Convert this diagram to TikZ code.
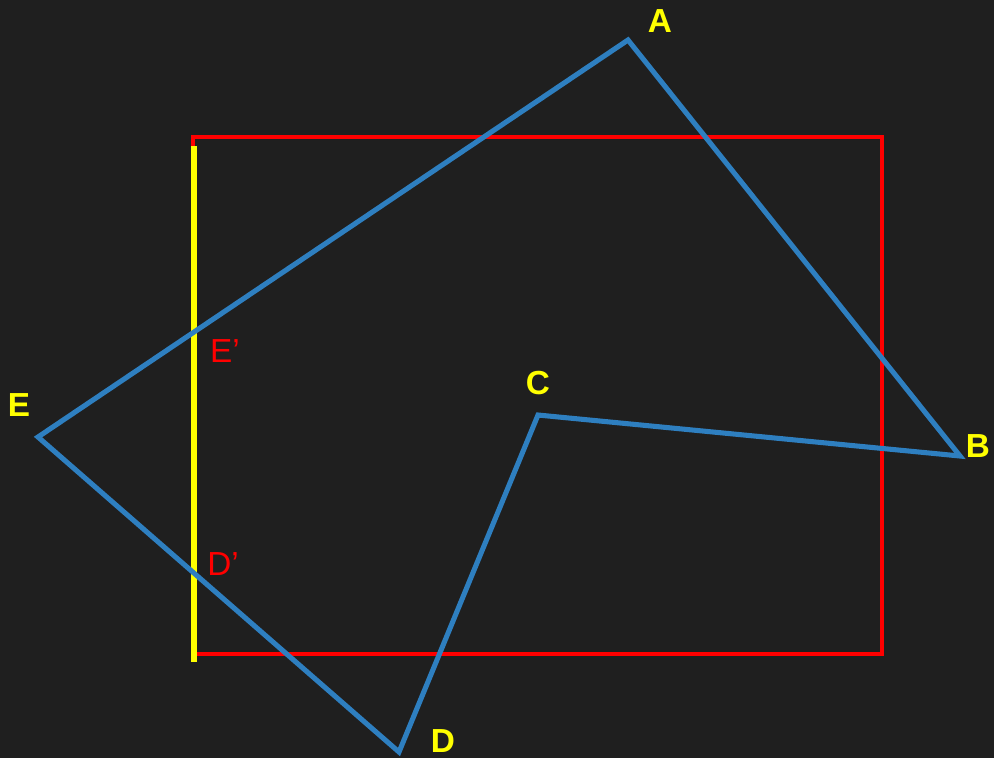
\documentclass[tikz,border=0pt]{standalone}
\usepackage{fontspec}
\setmainfont{Liberation Sans}
\definecolor{bg}{HTML}{1F1F1F}
\definecolor{polyblue}{HTML}{2E7FC0}
\definecolor{clipred}{HTML}{FF0000}
\definecolor{vyellow}{HTML}{FFFF00}
\tikzset{
  vlabel/.style={text=vyellow, font=\bfseries\fontsize{25}{30}\selectfont, inner sep=0pt},
  plabel/.style={text=clipred, font=\fontsize{25}{30}\selectfont, inner sep=0pt},
  poly/.style={draw=polyblue, line width=3.8pt},
  windowbox/.style={draw=clipred, line width=2.3pt},
  clipedge/.style={draw=vyellow, line width=5.2pt}
}
\begin{document}
\begin{tikzpicture}[x=0.75pt, y=-0.75pt]
\fill[bg] (0,0) rectangle (994,758);
\useasboundingbox (0,0) rectangle (994,758);
% vertices
\coordinate (A) at (628,40);
\coordinate (B) at (960,456);
\coordinate (C) at (538,415);
\coordinate (D) at (399,752);
\coordinate (E) at (38,437);
% clip window
\coordinate (R1) at (193,137);
\coordinate (R2) at (882,654);
\path[windowbox] (R1) rectangle (R2);
% clipping edge
\coordinate (Y1) at (194,146);
\coordinate (Y2) at (194,662);
\path[clipedge] (Y1) -- (Y2);
% polygon
\path[poly] (A) -- (B) -- (C) -- (D) -- (E) -- cycle;
% labels
\node[vlabel] (lA) at (660,21) {A};
\node[vlabel] (lB) at (978,446) {B};
\node[vlabel] (lC) at (538,383) {C};
\node[vlabel] (lD) at (443,741) {D};
\node[vlabel] (lE) at (19,405) {E};
\node[plabel] (lEp) at (225,351) {E’};
\node[plabel] (lDp) at (223,564) {D’};
\end{tikzpicture}
\end{document}
